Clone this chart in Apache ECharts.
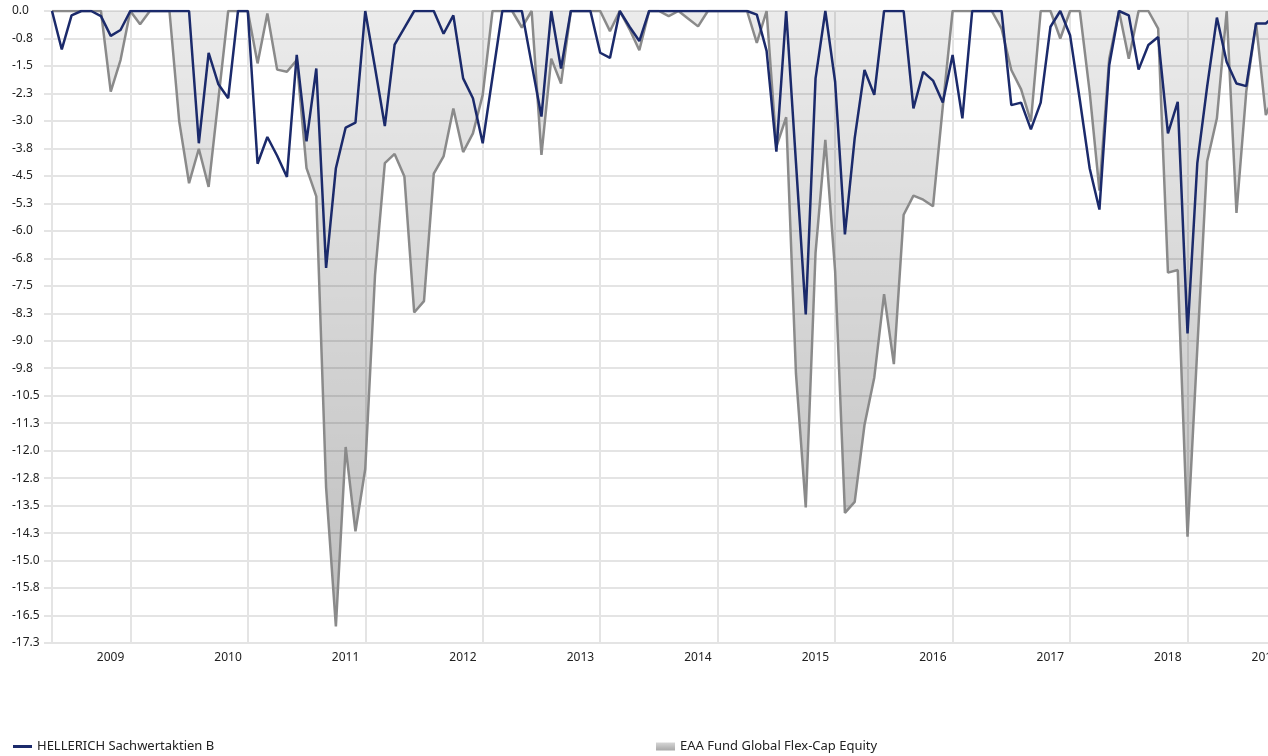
<!DOCTYPE html>
<html>
<head>
<meta charset="utf-8">
<script src="https://cdn.jsdelivr.net/npm/echarts@6/dist/echarts.min.js"></script>
<style>
  html, body { margin: 0; padding: 0; background: #ffffff; overflow: hidden; }
  #chart { width: 1310px; height: 756px; }
</style>
</head>
<body>
<div id="chart"></div>
<script>
// Monthly categories: May 2008 .. Jan 2019
const startYear = 2008, startMonth = 5, monthCount = 129;
const months = [];
for (let k = 0; k < monthCount; k++) {
  const m = startMonth - 1 + k;
  const y = startYear + Math.floor(m / 12);
  const mm = (m % 12) + 1;
  months.push(y + '-' + (mm < 10 ? '0' + mm : '' + mm));
}

const seriesNames = ['HELLERICH Sachwertaktien B', 'EAA Fund Global Flex-Cap Equity'];

// Drawdown (%) of the fund, monthly
const hellerichValues = [
  0, -1.05, -0.12, 0, 0, -0.14, -0.68, -0.52, 0, 0,
  0, 0, 0, 0, 0, -3.61, -1.14, -2.0, -2.38, 0,
  0, -4.17, -3.44, -3.95, -4.53, -1.2, -3.56, -1.57, -7.01, -4.29,
  -3.18, -3.05, 0, -1.55, -3.14, -0.92, -0.46, 0, 0, 0,
  -0.62, -0.12, -1.84, -2.38, -3.61, -1.8, 0, 0, 0, -1.45,
  -2.88, 0, -1.57, 0, 0, 0, -1.14, -1.28, 0, -0.43,
  -0.82, 0, 0, 0, 0, 0, 0, 0, 0, 0,
  0, 0, -0.1, -1.09, -3.84, 0, -4.14, -8.28, -1.84, 0,
  -1.93, -6.1, -3.47, -1.61, -2.29, 0, 0, 0, -2.66, -1.66,
  -1.9, -2.5, -1.2, -2.93, 0, 0, 0, 0, -2.57, -2.5,
  -3.23, -2.5, -0.43, 0, -0.66, -2.43, -4.29, -5.42, -1.48, 0,
  -0.12, -1.6, -0.93, -0.71, -3.34, -2.48, -8.8, -4.15, -2.07, -0.18,
  -1.39, -1.98, -2.05, -0.34, -0.34, -0.1
];

// Drawdown (%) of the peer group, monthly
const peerValues = [
  0, 0, 0, 0, 0, 0, -2.2, -1.34, 0, -0.36,
  0, 0, 0, -3.02, -4.7, -3.76, -4.8, -2.4, 0, 0,
  0, -1.43, -0.07, -1.6, -1.66, -1.34, -4.29, -5.06, -13.0, -16.8,
  -11.9, -14.2, -12.5, -7.2, -4.15, -3.9, -4.52, -8.23, -7.92, -4.44,
  -3.97, -2.66, -3.85, -3.34, -2.29, 0, 0, 0, -0.45, 0,
  -3.93, -1.3, -1.98, 0, 0, 0, 0, -0.55, 0, -0.5,
  -1.07, 0, 0, -0.14, 0, -0.21, -0.42, 0, 0, 0,
  0, 0, -0.87, 0, -3.7, -2.9, -9.9, -13.55, -6.6, -3.52,
  -7.1, -13.7, -13.4, -11.3, -10.0, -7.73, -9.64, -5.56, -5.04, -5.15,
  -5.33, -2.6, 0, 0, 0, 0, 0, -0.48, -1.61, -2.14,
  -3.02, 0, 0, -0.75, 0, 0, -2.2, -4.9, -1.3, 0,
  -1.3, 0, 0, -0.48, -7.14, -7.07, -14.35, -9.2, -4.11, -2.93,
  0, -5.51, -2.2, -0.34, -2.84, -2.2
];

const yMin = -17.25, yMax = 0, yStep = 0.75;

const chart = echarts.init(document.getElementById('chart'), null, { renderer: 'canvas' });

const isYearStart = (idx, val) => typeof val === 'string' && val.slice(5) === '01';
const gridColor = '#e4e4e4';
const textColor = '#222222';
const fontFamily = '"Noto Sans", "Open Sans", sans-serif';
const lastCat = months[months.length - 1];

const option = {
  animation: false,
  backgroundColor: '#ffffff',
  grid: { left: 52, top: 11, bottom: 113, right: 5, containLabel: false },
  legend: [
    {
      data: [{ name: seriesNames[0], icon: 'rect' }],
      left: 13, top: 740, padding: 0,
      itemWidth: 19, itemHeight: 3, itemGap: 0,
      textStyle: { color: textColor, fontSize: 13, fontFamily: fontFamily },
      selectedMode: false
    },
    {
      data: [{
        name: seriesNames[1], icon: 'rect',
        itemStyle: {
          color: new echarts.graphic.LinearGradient(0, 0, 0, 1, [
            { offset: 0, color: '#d6d6d6' }, { offset: 1, color: '#a8a8a8' }
          ])
        }
      }],
      left: 656, top: 740, padding: 0,
      itemWidth: 19, itemHeight: 8, itemGap: 0,
      textStyle: { color: textColor, fontSize: 13, fontFamily: fontFamily },
      selectedMode: false
    }
  ],
  xAxis: {
    type: 'category',
    data: months,
    boundaryGap: false,
    axisLine: { show: true, lineStyle: { color: gridColor, width: 2 } },
    axisTick: {
      show: true, length: 8,
      interval: (idx, val) => idx === 0 || isYearStart(idx, val),
      lineStyle: { color: gridColor, width: 2 }
    },
    splitLine: {
      show: true,
      interval: (idx, val) => isYearStart(idx, val),
      lineStyle: { color: gridColor, width: 2 }
    },
    axisLabel: {
      interval: (idx, val) => isYearStart(idx, val),
      formatter: (val) => {
        const y = val.slice(0, 4);
        return val === lastCat ? '{edge|' + y + '}' : y;
      },
      rich: { edge: { padding: [0, 20, 0, 0], fontSize: 12, color: textColor, fontFamily: fontFamily } },
      align: 'right',
      padding: [0, 6, 0, 0],
      margin: 9,
      color: textColor,
      fontSize: 12,
      fontFamily: fontFamily
    }
  },
  yAxis: {
    type: 'value',
    min: yMin, max: yMax, interval: yStep,
    axisLine: { show: true, lineStyle: { color: gridColor, width: 2 } },
    axisTick: { show: true, length: 8, lineStyle: { color: gridColor, width: 2 } },
    splitLine: { show: true, lineStyle: { color: gridColor, width: 2 } },
    axisLabel: {
      formatter: (v) => (Math.round(v * 100) / 100).toFixed(1),
      align: 'left',
      margin: 40,
      color: textColor,
      fontSize: 12,
      fontFamily: fontFamily
    }
  },
  series: [
    {
      name: seriesNames[1],
      type: 'line',
      data: peerValues,
      showSymbol: false,
      symbol: 'none',
      color: '#8a8a8a',
      lineStyle: { color: '#8a8a8a', width: 2.5 },
      areaStyle: {
        origin: 'end',
        color: new echarts.graphic.LinearGradient(0, 11, 0, 643, [
          { offset: 0, color: 'rgba(0,0,0,0.11)' },
          { offset: 1, color: 'rgba(0,0,0,0.37)' }
        ], true)
      },
      z: 2
    },
    {
      name: seriesNames[0],
      type: 'line',
      data: hellerichValues,
      showSymbol: false,
      symbol: 'none',
      color: '#1b2a6b',
      lineStyle: { color: '#1b2a6b', width: 2.5 },
      z: 3
    }
  ]
};

chart.setOption(option);
</script>
</body>
</html>
